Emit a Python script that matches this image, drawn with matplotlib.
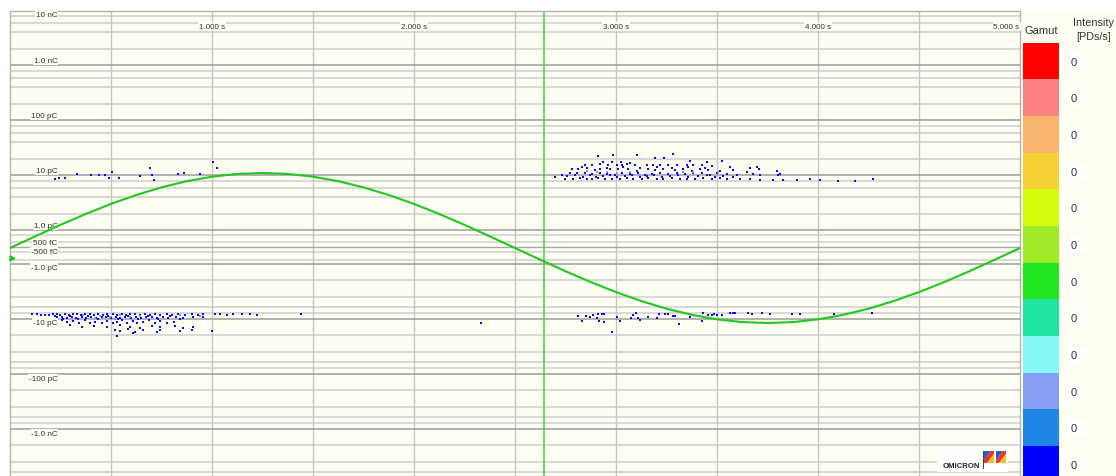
import numpy as np
import matplotlib.pyplot as plt
import matplotlib.transforms as mtransforms
from matplotlib.patches import Rectangle, Polygon

plt.rcParams['font.family'] = ['Liberation Sans', 'DejaVu Sans']

W, H = 1116, 477
IVORY = '#fefef2'

# --- data (time in s, charge in pC) ---
# positive cluster around +10 pC (2.7 .. 4.3 s)
pos_t = [2.913, 2.984, 3.102, 3.193, 3.238, 3.281, 2.937, 2.982, 3.023, 3.069, 3.366, 3.449, 3.523,
         2.847, 2.880, 2.921, 2.959, 3.003, 3.028, 3.053, 3.094, 3.152, 3.185, 3.218, 3.259, 3.300,
         3.350, 3.383, 3.424, 3.474, 3.564, 3.663, 3.700,
         2.781, 2.814, 2.855, 2.896, 2.921, 2.970, 3.012, 3.061, 3.102, 3.160, 3.193, 3.234, 3.292,
         3.333, 3.375, 3.416, 3.457, 3.515, 3.581, 3.647, 3.710, 3.795, 3.804,
         2.731, 2.772, 2.805, 2.847, 2.880, 2.921, 2.954, 2.995, 3.028, 3.069, 3.111, 3.144, 3.177,
         3.218, 3.259, 3.300, 3.342, 3.383, 3.424, 3.465, 3.498, 3.548, 3.597, 3.680, 3.713, 3.812,
         2.698, 2.748, 2.789, 2.822, 2.855, 2.880, 2.913, 2.946, 2.979, 3.020, 3.053, 3.086, 3.127,
         3.160, 3.201, 3.234, 3.276, 3.317, 3.350, 3.391, 3.432, 3.474, 3.515, 3.548, 3.614, 3.663,
         3.713, 3.779, 3.828, 3.894, 3.960, 4.010, 4.101, 4.183, 4.274,
         2.756, 2.797, 2.838, 2.871, 2.901, 2.937, 2.970, 3.007, 3.045, 3.078, 3.119, 3.152, 3.188,
         3.226, 3.268, 3.309, 3.358, 3.408, 3.449, 3.490, 3.531, 3.581,
         2.830, 2.954, 3.036, 3.119, 3.201, 3.276, 3.358, 3.441,
         # sparse points 0.2 .. 1.0 s
         0.223, 0.244, 0.272, 0.333, 0.399, 0.441, 0.470, 0.492, 0.503, 0.541, 0.644, 0.693, 0.701,
         0.713, 0.830, 0.861, 0.941, 1.003, 1.023]
pos_q = [22.5, 23.4, 23.4, 20.4, 20.4, 25.1, 17.7, 17.7, 17.7, 17.0, 18.2, 17.5, 18.2,
         15.8, 15.2, 16.5, 15.8, 15.4, 15.8, 16.5, 15.8, 15.6, 15.2, 15.4, 15.8, 15.8,
         15.2, 15.8, 15.4, 14.8, 14.4, 13.8, 14.2,
         13.2, 12.9, 13.8, 12.5, 13.2, 12.9, 13.2, 12.9, 12.3, 13.2, 12.5, 12.9, 12.5,
         13.2, 12.0, 12.9, 12.5, 12.0, 12.5, 11.5, 13.2, 12.3, 10.4,
         10.4, 10.9, 11.2, 11.2, 10.7, 11.2, 10.7, 10.4, 11.2, 10.7, 11.2, 10.4, 10.7,
         11.2, 10.7, 11.2, 10.7, 11.2, 10.9, 10.4, 11.2, 10.7, 10.4, 10.7, 10.4, 10.7,
         9.5, 8.7, 8.5, 9.1, 8.7, 8.5, 9.1, 8.5, 8.7, 8.5, 9.1, 8.7, 8.5,
         9.1, 8.5, 8.7, 9.1, 8.5, 8.7, 8.5, 9.1, 8.7, 9.1, 8.7, 8.5, 8.5,
         8.2, 8.2, 8.2, 8.2, 8.5, 8.2, 8.1, 8.1, 8.5,
         9.7, 10.0, 9.5, 10.0, 9.5, 9.7, 10.0, 9.5, 9.7, 10.0, 9.5, 9.7, 10.0,
         9.5, 9.7, 10.0, 9.5, 9.7, 10.0, 9.5, 9.7, 9.5,
         14.4, 13.8, 14.4, 13.8, 14.4, 13.8, 14.4, 13.8,
         8.7, 9.1, 9.1, 10.6, 10.1, 10.1, 10.1, 9.1, 11.7, 9.1, 9.7, 13.4, 10.1,
         8.2, 10.7, 11.0, 10.6, 17.5, 13.4]

# negative cluster around -10 pC (0.1 .. 1.2 s) and sparse points (2.8 .. 4.3 s)
neg_t = [0.107, 0.132, 0.152, 0.173, 0.195, 0.215, 0.234, 0.248, 0.272, 0.294, 0.314, 0.330, 0.350,
         0.371, 0.396, 0.416, 0.437, 0.462, 0.482, 0.508, 0.528, 0.553, 0.574, 0.594, 0.619, 0.644,
         0.668, 0.693, 0.718, 0.743, 0.776, 0.800, 0.833, 0.866, 0.899, 0.932, 0.957, 1.015, 1.040,
         1.073, 1.106, 1.147, 1.188, 1.224,
         0.231, 0.256, 0.281, 0.305, 0.327, 0.355, 0.376, 0.399, 0.426, 0.454, 0.475, 0.498, 0.525,
         0.545, 0.569, 0.597, 0.624, 0.647, 0.673, 0.701, 0.726, 0.756, 0.784, 0.822, 0.858, 0.908,
         0.954,
         0.256, 0.281, 0.314, 0.343, 0.371, 0.396, 0.421, 0.454, 0.479, 0.508, 0.531, 0.553, 0.578,
         0.607, 0.630, 0.660, 0.690, 0.718, 0.743, 0.776, 0.812,
         0.297, 0.355, 0.416, 0.479, 0.545, 0.594, 0.644, 0.701, 0.743, 0.817, 0.858, 0.908,
         0.520, 0.545, 0.586, 0.619, 0.660, 0.726, 0.743, 0.842, 0.899, 0.998, 0.528, 0.611,
         0.223, 0.264, 0.297, 0.338, 0.388, 0.437, 0.487, 0.536, 0.586, 0.635, 0.685, 0.734, 0.792,
         0.842,
         2.814, 2.830, 2.851, 2.871, 2.888, 2.904, 2.913, 2.918, 2.929, 2.942, 2.941, 2.979, 3.003,
         3.020, 3.073, 3.086, 3.099, 3.111, 3.119, 3.160, 3.201, 3.215, 3.243, 3.259, 3.284, 3.292,
         3.314, 3.366, 3.424, 3.432, 3.457, 3.474, 3.485, 3.502, 3.523, 3.564, 3.581, 3.589, 3.655,
         3.672, 3.721, 3.762, 3.870, 3.911, 4.079, 4.266, 1.441, 2.332]
neg_q = [-8.3, -8.3, -8.5, -8.6, -8.5, -8.3, -8.1, -8.5, -8.2, -8.6, -8.1, -8.3, -8.5,
         -8.2, -8.3, -8.6, -8.2, -8.5, -8.1, -8.3, -8.6, -8.2, -8.5, -8.1, -8.3, -8.6,
         -8.2, -8.5, -8.3, -8.6, -8.2, -8.5, -8.3, -8.6, -8.2, -8.5, -8.1, -8.3, -8.2,
         -8.5, -8.3, -8.2, -8.3, -8.6,
         -9.3, -9.1, -9.6, -9.3, -9.7, -9.1, -9.5, -9.2, -9.7, -9.3, -9.1, -9.6, -9.3,
         -9.7, -9.1, -9.5, -9.2, -9.7, -9.3, -9.1, -9.6, -9.3, -9.7, -9.2, -9.6, -9.3,
         -9.1,
         -10.7, -11.3, -11.0, -11.7, -10.7, -12.0, -11.2, -11.7, -10.9, -12.0, -11.3, -10.7, -11.7,
         -11.0, -12.0, -11.3, -10.7, -11.7, -11.0, -12.0, -11.3,
         -12.9, -13.8, -13.4, -14.2, -13.0, -13.8, -14.6, -13.4, -14.2, -13.4, -14.8, -13.8,
         -15.8, -17.0, -15.4, -17.7, -16.3, -17.7, -15.8, -17.0, -16.3, -17.0, -20.4, -18.2,
         -8.8, -10.0, -8.8, -10.1, -8.8, -10.1, -8.8, -10.1, -8.8, -10.1, -8.8, -10.1, -8.8,
         -10.1,
         -8.8, -10.9, -8.8, -9.3, -8.7, -9.7, -8.2, -10.9, -8.2, -8.2, -11.5, -17.7, -9.3,
         -10.9, -9.7, -8.7, -7.9, -9.5, -10.4, -9.3, -9.7, -8.2, -8.2, -8.2, -8.8, -8.8,
         -12.3, -9.3, -10.9, -7.9, -8.7, -8.5, -8.2, -8.5, -8.5, -7.9, -7.9, -7.9, -7.9,
         -8.2, -7.9, -8.2, -8.2, -8.2, -8.2, -7.7, -8.1, -11.8]

# lighter (higher intensity) points inside the clusters
light_t = [2.908, 2.957, 3.003, 3.069, 3.333, 3.383, 3.507, 3.119, 2.855,
           0.446, 0.495, 0.545, 0.594, 0.644, 0.421, 0.520, 0.363, 0.842, 0.941]
light_q = [11.5, 11.8, 11.2, 11.8, 11.5, 11.8, 11.5, 10.4, 12.0,
           -8.8, -9.1, -8.7, -9.3, -9.0, -9.7, -9.9, -8.7, -8.7, -8.8]

# reference sine (relative amplitude) read along one 5 s window
phase_t = [0.0, 0.125, 0.25, 0.375, 0.5, 0.625, 0.75, 0.875, 1.0, 1.125, 1.25, 1.375, 1.5, 1.625,
           1.75, 1.875, 2.0, 2.125, 2.25, 2.375, 2.5, 2.625, 2.75, 2.875, 3.0, 3.125, 3.25, 3.375,
           3.5, 3.625, 3.75, 3.875, 4.0, 4.125, 4.25, 4.375, 4.5, 4.625, 4.75, 4.875, 5.0]
sine_v = [0.0, 0.156, 0.309, 0.454, 0.588, 0.707, 0.809, 0.891, 0.951, 0.988, 1.0, 0.988, 0.951,
          0.891, 0.809, 0.707, 0.588, 0.454, 0.309, 0.156, 0.0, -0.156, -0.309, -0.454, -0.588,
          -0.707, -0.809, -0.891, -0.951, -0.988, -1.0, -0.988, -0.951, -0.891, -0.809, -0.707,
          -0.588, -0.454, -0.309, -0.156, 0.0]
cursor_t = 2.644

x_tick_vals = [1, 2, 3, 4, 5]
x_tick_labels = ['1.000 s', '2.000 s', '3.000 s', '4.000 s', '5.000 s']
y_tick_vals = [1e4, 1e3, 100, 10, 1, 0.5, -0.5, -1, -10, -100, -1e3, -1e4]
y_tick_labels = ['10 nC', '1.0 nC', '100 pC', '10 pC', '1.0 pC', '500 fC', '-500 fC', '-1.0 pC',
                 '-10 pC', '-100 pC', '-1.0 nC', '-10 nC']

gamut_colors = ['#ff0000', '#ff8080', '#fab46e', '#f5d232', '#d2fa0a', '#a0eb28',
                '#22e622', '#1ee6a0', '#87f8f8', '#87a0f5', '#1e87e6', '#0000ff']
intensity = [0, 0, 0, 0, 0, 0, 0, 0, 0, 0, 0, 0]

# --- symmetric log scale with small linear core (like the PRPD display) ---
D1 = 0.303


def fwd(q):
    q = np.asarray(q, dtype=float)
    a = np.abs(q)
    out = np.where(a >= 1, D1 + np.log10(np.maximum(a, 1)), D1 * a)
    return np.sign(q) * out


def inv(u):
    u = np.asarray(u, dtype=float)
    b = np.abs(u)
    out = np.where(b >= D1, 10 ** (np.minimum(b, 20) - D1), b / D1)
    return np.sign(u) * out


fig = plt.figure(figsize=(W / 100, H / 100), dpi=100)
fig.patch.set_facecolor('white')
px = mtransforms.Affine2D().scale(1 / W, -1 / H).translate(0, 1) + fig.transFigure

# ivory panel behind the legend
fig.add_artist(Rectangle((1018, 11.5), 98, 470, transform=px, fc=IVORY, ec='none', zorder=0))

ax = fig.add_axes([10 / W, 1 - 484.8 / H, 1010 / W, 473.3 / H])
ax.set_facecolor(IVORY)
ax.set_yscale('function', functions=(fwd, inv))
ax.set_xlim(0, 5)
ax.set_ylim(-1e4, 1e4)
ax.set_xticks([])
ax.set_yticks([])
ax.minorticks_off()
for s in ax.spines.values():
    s.set_color('#b4b4b4')
    s.set_linewidth(1)

# horizontal grid
for dec in [1, 10, 100, 1000]:
    for m in [2, 4, 6, 8]:
        for sg in [1, -1]:
            ax.axhline(sg * m * dec, color='#d9d9d9', lw=1.5, zorder=1)
for sg in [1, -1]:
    for v in [0.75, 0.3]:
        ax.axhline(sg * v, color='#d9d9d9', lw=1.4, zorder=1)
ax.axhline(0, color='#a8a8a8', lw=1, zorder=1.2)
for v in [1, 10, 100, 1000, 10000]:
    for sg in [1, -1]:
        ax.axhline(sg * v, color='#9c9c9c', lw=1.1, zorder=1.2)

# vertical grid
for t in [0.5, 1.0, 1.5, 2.0, 2.5, 3.0, 3.5, 4.0, 4.5]:
    ax.axvline(t, color='#c6c6c6', lw=1, zorder=1.1)
ax.axvline(cursor_t, color='#3fd23f', lw=1.1, zorder=2)

# y labels
label_dy = [-4.5, 4.5, 4.5, 4.5, 4.5, -3.8, 4.2, -3.8, -4.0, -4.5, -4.5, -3.0]
for lab, q, dy in zip(y_tick_labels, y_tick_vals, label_dy):
    ax.annotate(lab, xy=(47.5 / 1010, q), xycoords=('axes fraction', 'data'),
                xytext=(0, dy * 0.72), textcoords='offset points', ha='right', va='center',
                fontsize=5.9, color='#333333', zorder=4, annotation_clip=False,
                bbox=dict(boxstyle='square,pad=0.12', fc=IVORY, ec='none'))

# x labels
trans = mtransforms.blended_transform_factory(ax.transData, ax.transAxes)
for t, lab in zip(x_tick_vals, x_tick_labels):
    ax.text(t if t < 5 else 4.998, 1 - 16 / 473.3, lab, transform=trans,
            ha='center' if t < 5 else 'right', va='center', fontsize=5.8, color='#333333',
            zorder=4, bbox=dict(boxstyle='square,pad=0.12', fc=IVORY, ec='none'))

# PD points
ax.scatter(pos_t, pos_q, s=4, marker='s', c='#0a0aff', linewidths=0, zorder=3)
ax.scatter(neg_t, neg_q, s=4, marker='s', c='#0a0aff', linewidths=0, zorder=3)
ax.scatter(light_t, light_q, s=4, marker='s', c='#7f95f2', linewidths=0, zorder=3.1)

# reference sine on its own linear axis
ax2 = ax.twinx()
ax2.set_ylim(-3.144, 3.167)
ax2.axis('off')
ax2.plot(phase_t, sine_v, color='#22c822', lw=1.5, zorder=5)
ax2.plot([0.012], [-0.133], marker='>', color='#22c822', ms=3.5, clip_on=False)

# gamut legend
fig.text(1041, 31, 'Gamut', transform=px, ha='center', va='center', fontsize=8, color='#333333')
fig.text(1094, 23.5, 'Intensity', transform=px, ha='center', va='center', fontsize=7.8,
         color='#333333')
fig.text(1094, 37, '[PDs/s]', transform=px, ha='center', va='center', fontsize=7.8,
         color='#333333')
box_h = 36.67
for i, (c, v) in enumerate(zip(gamut_colors, intensity)):
    y0 = 43.7 + i * box_h
    fig.add_artist(Rectangle((1023, y0), 36, box_h, transform=px, fc=c, ec='none'))
    fig.text(1074, y0 + box_h / 2 + 0.5, str(v), transform=px, ha='center', va='center',
             fontsize=8, color='#333333',
             bbox=dict(boxstyle='square,pad=0.3', fc='white', ec='none'))

# OMICRON logo
fig.add_artist(Rectangle((937, 450), 71, 23, transform=px, fc='white', ec='none'))
fig.text(961, 466.5, 'OMICRON', transform=px, ha='center', va='center', fontsize=5.6,
         fontweight='bold', color='#222222')
for x0 in [984, 996]:
    fig.add_artist(Polygon([(x0, 452), (x0 + 7, 452), (x0, 461)], closed=True,
                           transform=px, fc='#2a5cc8', ec='none'))
    fig.add_artist(Polygon([(x0 + 7, 452), (x0 + 10, 452), (x0 + 10, 455), (x0 + 3, 464),
                            (x0, 464), (x0, 461)], closed=True, transform=px,
                           fc='#e8352a', ec='none'))
    fig.add_artist(Polygon([(x0 + 10, 455), (x0 + 10, 464), (x0 + 3, 464)], closed=True,
                           transform=px, fc='#f5c21e', ec='none'))
fig.add_artist(Rectangle((983, 452), 0.8, 18, transform=px, fc='#444444', ec='none'))

fig.savefig('out.png', dpi=100)
